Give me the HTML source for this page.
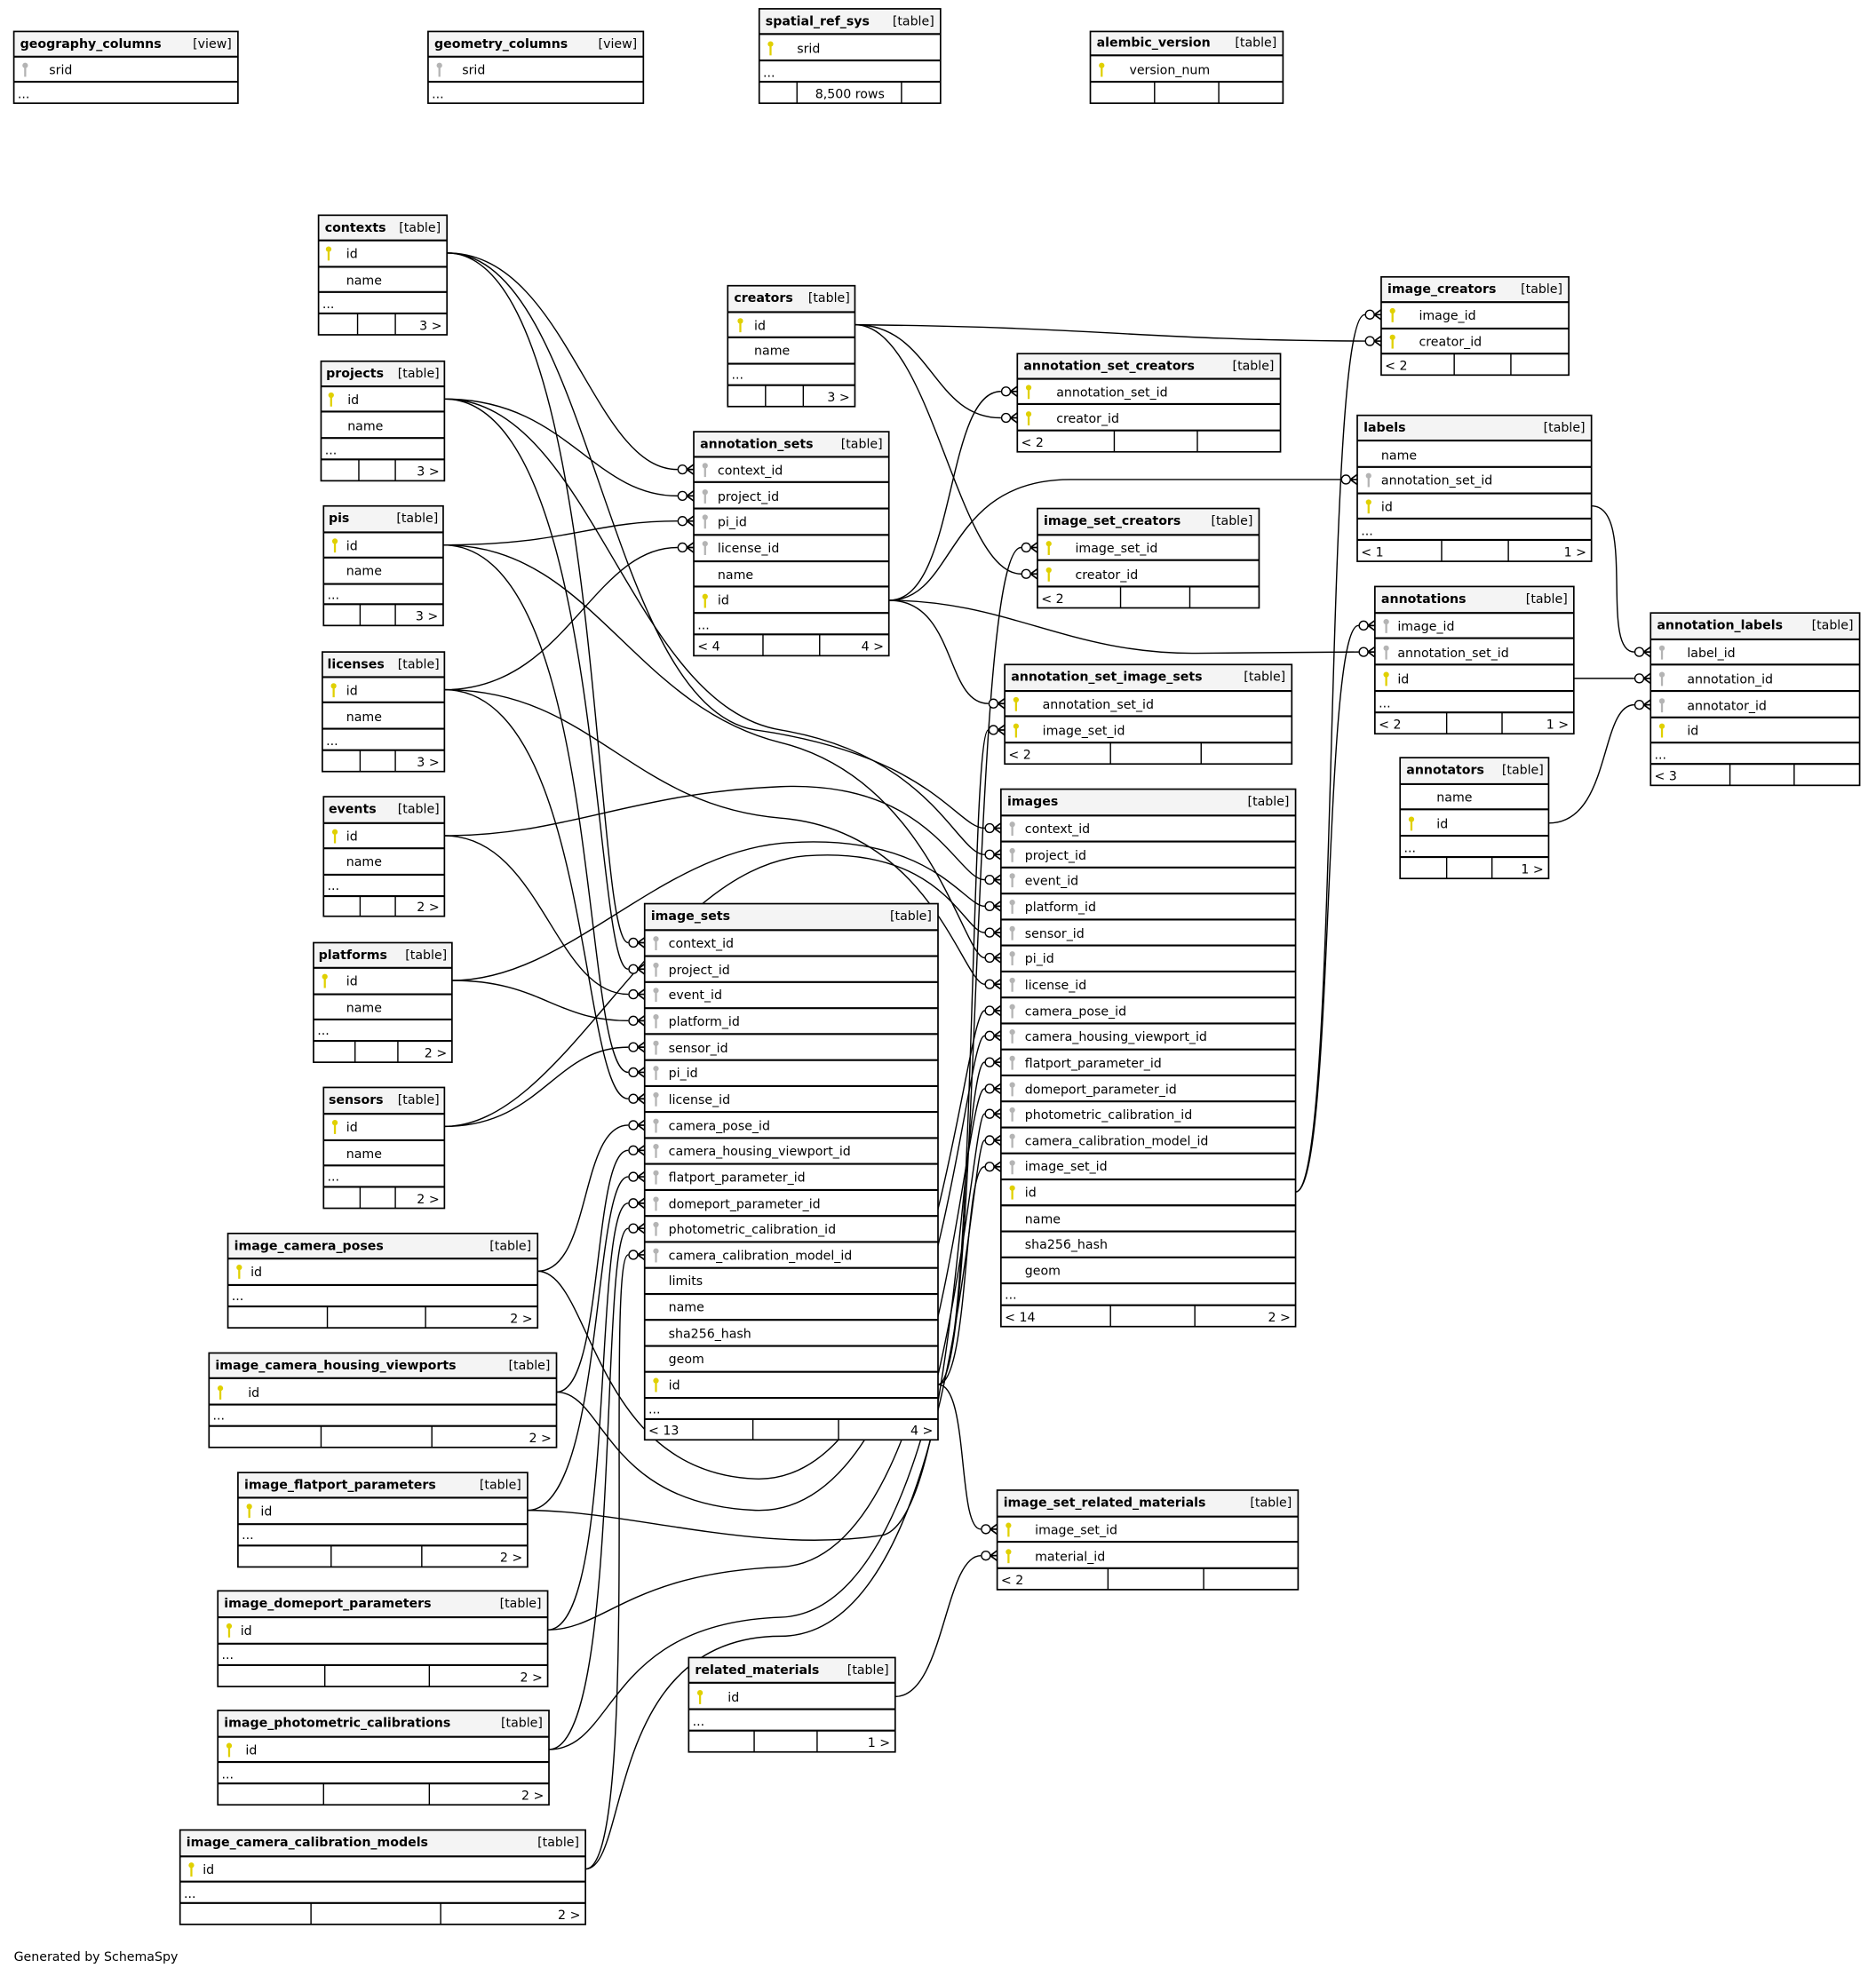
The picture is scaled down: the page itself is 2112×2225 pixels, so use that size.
<!DOCTYPE html>
<html><head><meta charset="utf-8"><style>
html,body{margin:0;padding:0;background:#fff}
svg{display:block}
text{font-family:"DejaVu Sans","Liberation Sans",sans-serif;font-size:10px;fill:#000}
.b{font-weight:bold}
.bg{fill:#fff}
.hd{fill:#f4f4f4}
.ol{fill:none;stroke:#000;stroke-width:1.2}
.ln{fill:none;stroke:#000;stroke-width:1.5}
.vl{fill:none;stroke:#000;stroke-width:1}
.e{fill:none;stroke:#000;stroke-width:1}
</style></head><body>
<svg width="2112" height="2225" viewBox="0 0 1490 1570" preserveAspectRatio="none" xmlns="http://www.w3.org/2000/svg">
<defs>
<g id="pk"><circle cx="0" cy="-3" r="2.2" fill="#e0d000"/><rect x="-0.8" y="-2" width="1.6" height="8" fill="#e0d000"/></g>
<g id="fk"><circle cx="0" cy="-3" r="2.2" fill="#b4b4b4"/><rect x="-0.8" y="-2" width="1.6" height="8" fill="#b4b4b4"/></g>
<g id="cf"><circle cx="-9" cy="0" r="3.5" fill="#fff" stroke="#000" stroke-width="1"/><path d="M-5.5 0L0 -4M-5.5 0L0 0M-5.5 0L0 4" stroke="#000" stroke-width="1.2" fill="none"/></g>
</defs>
<rect width="1490" height="1570" fill="#fff"/>

<!-- EDGES -->
<g class="e">
<path d="M355 201C450 201 470 373 538 373"/>
<path d="M353 317C450 317 470 394 538 394"/>
<path d="M352 433C450 433 470 414 538 414"/>
<path d="M353 548C450 548 470 435 538 435"/>
<path d="M355 201C480 201 470 749 499 749"/>
<path d="M353 317C480 317 470 770 499 770"/>
<path d="M353 664C430 664 440 790 499 790"/>
<path d="M359 779C430 779 440 811 499 811"/>
<path d="M353 895C430 895 440 832 499 832"/>
<path d="M352 433C480 433 460 852 499 852"/>
<path d="M353 548C470 548 460 873 499 873"/>
<path d="M427 1010C470 1010 460 894 499 894"/>
<path d="M442 1106C480 1106 470 914 499 914"/>
<path d="M419 1200C480 1200 470 935 499 935"/>
<path d="M435 1295C490 1295 470 956 499 956"/>
<path d="M436 1390C495 1390 475 976 499 976"/>
<path d="M465 1485C510 1485 480 997 499 997"/>
<path d="M355 201C470 201 480 560 600 580C740 600 760 658 782 658"/>
<path d="M353 317C470 317 500 560 620 580C740 600 760 679 782 679"/>
<path d="M353 664C450 664 500 630 620 625C740 620 760 699 782 699"/>
<path d="M359 779C450 779 520 680 620 670C740 660 765 720 782 720"/>
<path d="M353 895C450 895 520 690 640 680C750 672 765 741 782 741"/>
<path d="M352 433C470 433 500 560 620 590C740 620 765 761 782 761"/>
<path d="M353 548C470 548 500 640 620 650C740 660 765 782 782 782"/>
<path d="M427 1010C470 1010 470 1170 600 1175C740 1180 765 803 782 803"/>
<path d="M442 1106C480 1106 480 1195 600 1200C745 1205 765 823 782 823"/>
<path d="M419 1200C500 1200 600 1235 700 1220C760 1210 765 844 782 844"/>
<path d="M435 1295C480 1295 500 1250 620 1245C750 1240 765 865 782 865"/>
<path d="M436 1390C490 1390 480 1290 620 1285C755 1280 770 885 782 885"/>
<path d="M465 1485C500 1485 480 1300 620 1300C760 1300 770 906 782 906"/>
<path d="M745 1100C770 1100 765 927 782 927"/>
<path d="M745 1100C780 1100 770 435 811 435"/>
<path d="M745 1100C775 1100 770 580 785 580"/>
<path d="M745 1100C770 1100 760 1215 779 1215"/>
<path d="M711 1348C750 1348 750 1236 779 1236"/>
<path d="M706 477C760 477 750 311 795 311"/>
<path d="M706 477C760 477 750 559 785 559"/>
<path d="M706 477C760 477 750 381 850 381L1065 381"/>
<path d="M706 477C800 477 850 520 950 519L1079 518"/>
<path d="M679 258C740 258 740 332 795 332"/>
<path d="M679 258C740 258 760 456 811 456"/>
<path d="M679 258C880 260 900 270 1084 271"/>
<path d="M1029 947C1065 947 1050 250 1084 250"/>
<path d="M1029 947C1060 947 1050 497 1079 497"/>
<path d="M1264 402C1300 402 1270 518 1298 518"/>
<path d="M1250 539L1298 539"/>
<path d="M1230 654C1280 654 1270 560 1298 560"/>
</g>

<!-- TABLES -->
<!-- geography_columns -->
<g><rect class="bg" x="11" y="25" width="178" height="57"/><rect class="hd" x="11" y="25" width="178" height="20"/>
<path class="ln" d="M11 45H189M11 65H189"/>
<text x="16" y="38" class="b">geography_columns</text><text x="184" y="38" text-anchor="end">[view]</text>
<use href="#fk" x="20" y="55"/><text x="39" y="59">srid</text><text x="14" y="78">...</text>
<rect class="ol" x="11" y="25" width="178" height="57"/></g>
<!-- geometry_columns -->
<g><rect class="bg" x="340" y="25" width="171" height="57"/><rect class="hd" x="340" y="25" width="171" height="20"/>
<path class="ln" d="M340 45H511M340 65H511"/>
<text x="345" y="38" class="b">geometry_columns</text><text x="506" y="38" text-anchor="end">[view]</text>
<use href="#fk" x="349" y="55"/><text x="367" y="59">srid</text><text x="343" y="78">...</text>
<rect class="ol" x="340" y="25" width="171" height="57"/></g>
<!-- spatial_ref_sys -->
<g><rect class="bg" x="603" y="7" width="144" height="75"/><rect class="hd" x="603" y="7" width="144" height="20"/>
<path class="ln" d="M603 27H747M603 48H747M603 65H747"/><path class="vl" d="M633 65V82M716 65V82"/>
<text x="608" y="20" class="b">spatial_ref_sys</text><text x="742" y="20" text-anchor="end">[table]</text>
<use href="#pk" x="612" y="38"/><text x="633" y="42">srid</text><text x="606" y="61">...</text>
<text x="675" y="78" text-anchor="middle">8,500 rows</text>
<rect class="ol" x="603" y="7" width="144" height="75"/></g>
<!-- alembic_version -->
<g><rect class="bg" x="866" y="25" width="153" height="57"/><rect class="hd" x="866" y="25" width="153" height="19"/>
<path class="ln" d="M866 44H1019M866 65H1019"/><path class="vl" d="M917 65V82M968 65V82"/>
<text x="871" y="37" class="b">alembic_version</text><text x="1014" y="37" text-anchor="end">[table]</text>
<use href="#pk" x="875" y="55"/><text x="897" y="59">version_num</text>
<rect class="ol" x="866" y="25" width="153" height="57"/></g>

<!-- contexts -->
<g><rect class="bg" x="253" y="171" width="102" height="95"/><rect class="hd" x="253" y="171" width="102" height="20"/>
<path class="ln" d="M253 191H355M253 212H355M253 232H355M253 249H355"/><path class="vl" d="M284 249V266M314 249V266"/>
<text x="258" y="184" class="b">contexts</text><text x="350" y="184" text-anchor="end">[table]</text>
<use href="#pk" x="261" y="201"/><text x="275" y="205">id</text><text x="275" y="226">name</text><text x="256" y="245">...</text>
<text x="351" y="262" text-anchor="end">3 &gt;</text>
<rect class="ol" x="253" y="171" width="102" height="95"/></g>
<!-- projects -->
<g><rect class="bg" x="255" y="287" width="98" height="95"/><rect class="hd" x="255" y="287" width="98" height="20"/>
<path class="ln" d="M255 307H353M255 327H353M255 348H353M255 365H353"/><path class="vl" d="M285 365V382M314 365V382"/>
<text x="259" y="300" class="b">projects</text><text x="349" y="300" text-anchor="end">[table]</text>
<use href="#pk" x="263" y="317"/><text x="276" y="321">id</text><text x="276" y="342">name</text><text x="258" y="361">...</text>
<text x="349" y="378" text-anchor="end">3 &gt;</text>
<rect class="ol" x="255" y="287" width="98" height="95"/></g>
<!-- pis -->
<g><rect class="bg" x="257" y="402" width="95" height="95"/><rect class="hd" x="257" y="402" width="95" height="21"/>
<path class="ln" d="M257 423H352M257 443H352M257 464H352M257 480H352"/><path class="vl" d="M286 480V497M314 480V497"/>
<text x="261" y="415" class="b">pis</text><text x="348" y="415" text-anchor="end">[table]</text>
<use href="#pk" x="266" y="433"/><text x="275" y="437">id</text><text x="275" y="457">name</text><text x="260" y="476">...</text>
<text x="348" y="493" text-anchor="end">3 &gt;</text>
<rect class="ol" x="257" y="402" width="95" height="95"/></g>
<!-- licenses -->
<g><rect class="bg" x="256" y="518" width="97" height="95"/><rect class="hd" x="256" y="518" width="97" height="20"/>
<path class="ln" d="M256 538H353M256 558H353M256 579H353M256 596H353"/><path class="vl" d="M286 596V613M314 596V613"/>
<text x="260" y="531" class="b">licenses</text><text x="349" y="531" text-anchor="end">[table]</text>
<use href="#pk" x="265" y="548"/><text x="275" y="552">id</text><text x="275" y="573">name</text><text x="259" y="592">...</text>
<text x="349" y="609" text-anchor="end">3 &gt;</text>
<rect class="ol" x="256" y="518" width="97" height="95"/></g>
<!-- events -->
<g><rect class="bg" x="257" y="633" width="96" height="95"/><rect class="hd" x="257" y="633" width="96" height="21"/>
<path class="ln" d="M257 654H353M257 674H353M257 695H353M257 712H353"/><path class="vl" d="M286 712V728M314 712V728"/>
<text x="261" y="646" class="b">events</text><text x="349" y="646" text-anchor="end">[table]</text>
<use href="#pk" x="266" y="664"/><text x="275" y="668">id</text><text x="275" y="688">name</text><text x="260" y="707">...</text>
<text x="349" y="724" text-anchor="end">2 &gt;</text>
<rect class="ol" x="257" y="633" width="96" height="95"/></g>
<!-- platforms -->
<g><rect class="bg" x="249" y="749" width="110" height="95"/><rect class="hd" x="249" y="749" width="110" height="20"/>
<path class="ln" d="M249 769H359M249 790H359M249 810H359M249 827H359"/><path class="vl" d="M282 827V844M316 827V844"/>
<text x="253" y="762" class="b">platforms</text><text x="355" y="762" text-anchor="end">[table]</text>
<use href="#pk" x="258" y="779"/><text x="275" y="783">id</text><text x="275" y="804">name</text><text x="252" y="822">...</text>
<text x="355" y="840" text-anchor="end">2 &gt;</text>
<rect class="ol" x="249" y="749" width="110" height="95"/></g>
<!-- sensors -->
<g><rect class="bg" x="257" y="864" width="96" height="96"/><rect class="hd" x="257" y="864" width="96" height="21"/>
<path class="ln" d="M257 885H353M257 906H353M257 926H353M257 943H353"/><path class="vl" d="M286 943V960M314 943V960"/>
<text x="261" y="877" class="b">sensors</text><text x="349" y="877" text-anchor="end">[table]</text>
<use href="#pk" x="266" y="895"/><text x="275" y="899">id</text><text x="275" y="920">name</text><text x="260" y="938">...</text>
<text x="349" y="956" text-anchor="end">2 &gt;</text>
<rect class="ol" x="257" y="864" width="96" height="96"/></g>
<!-- image_camera_poses -->
<g><rect class="bg" x="181" y="980" width="246" height="75"/><rect class="hd" x="181" y="980" width="246" height="20"/>
<path class="ln" d="M181 1000H427M181 1021H427M181 1038H427"/><path class="vl" d="M260 1038V1055M338 1038V1055"/>
<text x="186" y="993" class="b">image_camera_poses</text><text x="422" y="993" text-anchor="end">[table]</text>
<use href="#pk" x="190" y="1010"/><text x="199" y="1014">id</text><text x="184" y="1033">...</text>
<text x="423" y="1051" text-anchor="end">2 &gt;</text>
<rect class="ol" x="181" y="980" width="246" height="75"/></g>
<!-- image_camera_housing_viewports -->
<g><rect class="bg" x="166" y="1075" width="276" height="75"/><rect class="hd" x="166" y="1075" width="276" height="20"/>
<path class="ln" d="M166 1095H442M166 1116H442M166 1133H442"/><path class="vl" d="M255 1133V1150M343 1133V1150"/>
<text x="171" y="1088" class="b">image_camera_housing_viewports</text><text x="437" y="1088" text-anchor="end">[table]</text>
<use href="#pk" x="175" y="1106"/><text x="197" y="1110">id</text><text x="169" y="1128">...</text>
<text x="438" y="1146" text-anchor="end">2 &gt;</text>
<rect class="ol" x="166" y="1075" width="276" height="75"/></g>
<!-- image_flatport_parameters -->
<g><rect class="bg" x="189" y="1170" width="230" height="75"/><rect class="hd" x="189" y="1170" width="230" height="20"/>
<path class="ln" d="M189 1190H419M189 1211H419M189 1228H419"/><path class="vl" d="M263 1228V1245M335 1228V1245"/>
<text x="194" y="1183" class="b">image_flatport_parameters</text><text x="414" y="1183" text-anchor="end">[table]</text>
<use href="#pk" x="198" y="1200"/><text x="207" y="1204">id</text><text x="192" y="1223">...</text>
<text x="415" y="1241" text-anchor="end">2 &gt;</text>
<rect class="ol" x="189" y="1170" width="230" height="75"/></g>
<!-- image_domeport_parameters -->
<g><rect class="bg" x="173" y="1264" width="262" height="76"/><rect class="hd" x="173" y="1264" width="262" height="21"/>
<path class="ln" d="M173 1285H435M173 1306H435M173 1323H435"/><path class="vl" d="M258 1323V1340M341 1323V1340"/>
<text x="178" y="1277" class="b">image_domeport_parameters</text><text x="430" y="1277" text-anchor="end">[table]</text>
<use href="#pk" x="182" y="1295"/><text x="191" y="1299">id</text><text x="176" y="1318">...</text>
<text x="431" y="1336" text-anchor="end">2 &gt;</text>
<rect class="ol" x="173" y="1264" width="262" height="76"/></g>
<!-- image_photometric_calibrations -->
<g><rect class="bg" x="173" y="1359" width="263" height="75"/><rect class="hd" x="173" y="1359" width="263" height="21"/>
<path class="ln" d="M173 1380H436M173 1400H436M173 1417H436"/><path class="vl" d="M257 1417V1434M341 1417V1434"/>
<text x="178" y="1372" class="b">image_photometric_calibrations</text><text x="431" y="1372" text-anchor="end">[table]</text>
<use href="#pk" x="182" y="1390"/><text x="195" y="1394">id</text><text x="176" y="1413">...</text>
<text x="432" y="1430" text-anchor="end">2 &gt;</text>
<rect class="ol" x="173" y="1359" width="263" height="75"/></g>
<!-- image_camera_calibration_models -->
<g><rect class="bg" x="143" y="1454" width="322" height="75"/><rect class="hd" x="143" y="1454" width="322" height="21"/>
<path class="ln" d="M143 1475H465M143 1495H465M143 1512H465"/><path class="vl" d="M247 1512V1529M350 1512V1529"/>
<text x="148" y="1467" class="b">image_camera_calibration_models</text><text x="460" y="1467" text-anchor="end">[table]</text>
<use href="#pk" x="152" y="1485"/><text x="161" y="1489">id</text><text x="146" y="1508">...</text>
<text x="461" y="1525" text-anchor="end">2 &gt;</text>
<rect class="ol" x="143" y="1454" width="322" height="75"/></g>

<!-- creators -->
<g><rect class="bg" x="578" y="227" width="101" height="96"/><rect class="hd" x="578" y="227" width="101" height="21"/>
<path class="ln" d="M578 248H679M578 268H679M578 289H679M578 306H679"/><path class="vl" d="M608 306V323M638 306V323"/>
<text x="583" y="240" class="b">creators</text><text x="675" y="240" text-anchor="end">[table]</text>
<use href="#pk" x="588" y="258"/><text x="599" y="262">id</text><text x="599" y="282">name</text><text x="581" y="301">...</text>
<text x="675" y="319" text-anchor="end">3 &gt;</text>
<rect class="ol" x="578" y="227" width="101" height="96"/></g>
<!-- annotation_sets -->
<g><rect class="bg" x="551" y="343" width="155" height="178"/><rect class="hd" x="551" y="343" width="155" height="20"/>
<path class="ln" d="M551 363H706M551 383H706M551 404H706M551 425H706M551 446H706M551 466H706M551 487H706M551 504H706"/><path class="vl" d="M606 504V521M651 504V521"/>
<text x="556" y="356" class="b">annotation_sets</text><text x="701" y="356" text-anchor="end">[table]</text>
<use href="#fk" x="560" y="373"/><text x="570" y="377">context_id</text>
<use href="#fk" x="560" y="394"/><text x="570" y="398">project_id</text>
<use href="#fk" x="560" y="414"/><text x="570" y="418">pi_id</text>
<use href="#fk" x="560" y="435"/><text x="570" y="439">license_id</text>
<text x="570" y="460">name</text>
<use href="#pk" x="560" y="477"/><text x="570" y="480">id</text>
<text x="554" y="500">...</text><text x="554" y="517">&lt; 4</text><text x="702" y="517" text-anchor="end">4 &gt;</text>
<rect class="ol" x="551" y="343" width="155" height="178"/></g>
<!-- image_sets -->
<g><rect class="bg" x="512" y="718" width="233" height="426"/><rect class="hd" x="512" y="718" width="233" height="21"/>
<path class="ln" d="M512 739H745M512 759.6H745M512 780.3H745M512 801H745M512 821.6H745M512 842.3H745M512 862.9H745M512 883.5H745M512 904.2H745M512 924.8H745M512 945.5H745M512 966.1H745M512 986.8H745M512 1007.4H745M512 1028.1H745M512 1048.7H745M512 1069.4H745M512 1090H745M512 1110.7H745M512 1127.5H745"/>
<path class="vl" d="M598 1127.5V1144M666 1127.5V1144"/>
<text x="517" y="731" class="b">image_sets</text><text x="740" y="731" text-anchor="end">[table]</text>
<use href="#fk" x="521" y="749"/><text x="531" y="753">context_id</text>
<use href="#fk" x="521" y="770"/><text x="531" y="774">project_id</text>
<use href="#fk" x="521" y="790"/><text x="531" y="794">event_id</text>
<use href="#fk" x="521" y="811"/><text x="531" y="815">platform_id</text>
<use href="#fk" x="521" y="832"/><text x="531" y="836">sensor_id</text>
<use href="#fk" x="521" y="852"/><text x="531" y="856">pi_id</text>
<use href="#fk" x="521" y="873"/><text x="531" y="877">license_id</text>
<use href="#fk" x="521" y="894"/><text x="531" y="898">camera_pose_id</text>
<use href="#fk" x="521" y="914"/><text x="531" y="918">camera_housing_viewport_id</text>
<use href="#fk" x="521" y="935"/><text x="531" y="939">flatport_parameter_id</text>
<use href="#fk" x="521" y="956"/><text x="531" y="960">domeport_parameter_id</text>
<use href="#fk" x="521" y="976"/><text x="531" y="980">photometric_calibration_id</text>
<use href="#fk" x="521" y="997"/><text x="531" y="1001">camera_calibration_model_id</text>
<text x="531" y="1021">limits</text><text x="531" y="1042">name</text><text x="531" y="1063">sha256_hash</text><text x="531" y="1083">geom</text>
<use href="#pk" x="521" y="1100"/><text x="531" y="1104">id</text>
<text x="515" y="1123">...</text><text x="515" y="1140">&lt; 13</text><text x="741" y="1140" text-anchor="end">4 &gt;</text>
<rect class="ol" x="512" y="718" width="233" height="426"/></g>
<!-- images -->
<g><rect class="bg" x="795" y="627" width="234" height="427"/><rect class="hd" x="795" y="627" width="234" height="21"/>
<path class="ln" d="M795 648H1029M795 668.6H1029M795 689.3H1029M795 710H1029M795 730.6H1029M795 751.2H1029M795 771.9H1029M795 792.5H1029M795 813.2H1029M795 833.8H1029M795 854.5H1029M795 875.1H1029M795 895.8H1029M795 916.4H1029M795 937.1H1029M795 957.7H1029M795 978.4H1029M795 999H1029M795 1019.7H1029M795 1037H1029"/>
<path class="vl" d="M882 1037V1054M949 1037V1054"/>
<text x="800" y="640" class="b">images</text><text x="1024" y="640" text-anchor="end">[table]</text>
<use href="#fk" x="804" y="658"/><text x="814" y="662">context_id</text>
<use href="#fk" x="804" y="679"/><text x="814" y="683">project_id</text>
<use href="#fk" x="804" y="699"/><text x="814" y="703">event_id</text>
<use href="#fk" x="804" y="720"/><text x="814" y="724">platform_id</text>
<use href="#fk" x="804" y="741"/><text x="814" y="745">sensor_id</text>
<use href="#fk" x="804" y="761"/><text x="814" y="765">pi_id</text>
<use href="#fk" x="804" y="782"/><text x="814" y="786">license_id</text>
<use href="#fk" x="804" y="803"/><text x="814" y="807">camera_pose_id</text>
<use href="#fk" x="804" y="823"/><text x="814" y="827">camera_housing_viewport_id</text>
<use href="#fk" x="804" y="844"/><text x="814" y="848">flatport_parameter_id</text>
<use href="#fk" x="804" y="865"/><text x="814" y="869">domeport_parameter_id</text>
<use href="#fk" x="804" y="885"/><text x="814" y="889">photometric_calibration_id</text>
<use href="#fk" x="804" y="906"/><text x="814" y="910">camera_calibration_model_id</text>
<use href="#fk" x="804" y="927"/><text x="814" y="930">image_set_id</text>
<use href="#pk" x="804" y="947"/><text x="814" y="951">id</text>
<text x="814" y="972">name</text><text x="814" y="992">sha256_hash</text><text x="814" y="1013">geom</text>
<text x="798" y="1032">...</text><text x="798" y="1050">&lt; 14</text><text x="1025" y="1050" text-anchor="end">2 &gt;</text>
<rect class="ol" x="795" y="627" width="234" height="427"/></g>
<!-- annotation_set_creators -->
<g><rect class="bg" x="808" y="281" width="209" height="78"/><rect class="hd" x="808" y="281" width="209" height="20"/>
<path class="ln" d="M808 301H1017M808 321H1017M808 342H1017"/><path class="vl" d="M885 342V359M951 342V359"/>
<text x="813" y="294" class="b">annotation_set_creators</text><text x="1012" y="294" text-anchor="end">[table]</text>
<use href="#pk" x="817" y="311"/><text x="839" y="315">annotation_set_id</text>
<use href="#pk" x="817" y="332"/><text x="839" y="336">creator_id</text>
<text x="811" y="355">&lt; 2</text>
<rect class="ol" x="808" y="281" width="209" height="78"/></g>
<!-- image_set_creators -->
<g><rect class="bg" x="824" y="404" width="176" height="79"/><rect class="hd" x="824" y="404" width="176" height="21"/>
<path class="ln" d="M824 425H1000M824 445H1000M824 466H1000"/><path class="vl" d="M890 466V483M945 466V483"/>
<text x="829" y="417" class="b">image_set_creators</text><text x="995" y="417" text-anchor="end">[table]</text>
<use href="#pk" x="833" y="435"/><text x="854" y="439">image_set_id</text>
<use href="#pk" x="833" y="456"/><text x="854" y="460">creator_id</text>
<text x="827" y="479">&lt; 2</text>
<rect class="ol" x="824" y="404" width="176" height="79"/></g>
<!-- annotation_set_image_sets -->
<g><rect class="bg" x="798" y="528" width="228" height="79"/><rect class="hd" x="798" y="528" width="228" height="21"/>
<path class="ln" d="M798 549H1026M798 569H1026M798 590H1026"/><path class="vl" d="M882 590V607M954 590V607"/>
<text x="803" y="541" class="b">annotation_set_image_sets</text><text x="1021" y="541" text-anchor="end">[table]</text>
<use href="#pk" x="807" y="559"/><text x="828" y="563">annotation_set_id</text>
<use href="#pk" x="807" y="580"/><text x="828" y="584">image_set_id</text>
<text x="801" y="603">&lt; 2</text>
<rect class="ol" x="798" y="528" width="228" height="79"/></g>
<!-- image_set_related_materials -->
<g><rect class="bg" x="792" y="1184" width="239" height="79"/><rect class="hd" x="792" y="1184" width="239" height="21"/>
<path class="ln" d="M792 1205H1031M792 1225H1031M792 1246H1031"/><path class="vl" d="M880 1246V1263M956 1246V1263"/>
<text x="797" y="1197" class="b">image_set_related_materials</text><text x="1026" y="1197" text-anchor="end">[table]</text>
<use href="#pk" x="801" y="1215"/><text x="822" y="1219">image_set_id</text>
<use href="#pk" x="801" y="1236"/><text x="822" y="1240">material_id</text>
<text x="795" y="1259">&lt; 2</text>
<rect class="ol" x="792" y="1184" width="239" height="79"/></g>
<!-- related_materials -->
<g><rect class="bg" x="547" y="1317" width="164" height="75"/><rect class="hd" x="547" y="1317" width="164" height="20"/>
<path class="ln" d="M547 1337H711M547 1358H711M547 1375H711"/><path class="vl" d="M599 1375V1392M649 1375V1392"/>
<text x="552" y="1330" class="b">related_materials</text><text x="706" y="1330" text-anchor="end">[table]</text>
<use href="#pk" x="556" y="1348"/><text x="578" y="1352">id</text><text x="550" y="1371">...</text>
<text x="707" y="1388" text-anchor="end">1 &gt;</text>
<rect class="ol" x="547" y="1317" width="164" height="75"/></g>
<!-- image_creators -->
<g><rect class="bg" x="1097" y="220" width="149" height="78"/><rect class="hd" x="1097" y="220" width="149" height="20"/>
<path class="ln" d="M1097 240H1246M1097 261H1246M1097 281H1246"/><path class="vl" d="M1155 281V298M1200 281V298"/>
<text x="1102" y="233" class="b">image_creators</text><text x="1241" y="233" text-anchor="end">[table]</text>
<use href="#pk" x="1106" y="250"/><text x="1127" y="254">image_id</text>
<use href="#pk" x="1106" y="271"/><text x="1127" y="275">creator_id</text>
<text x="1100" y="294">&lt; 2</text>
<rect class="ol" x="1097" y="220" width="149" height="78"/></g>
<!-- labels -->
<g><rect class="bg" x="1078" y="330" width="186" height="116"/><rect class="hd" x="1078" y="330" width="186" height="20"/>
<path class="ln" d="M1078 350H1264M1078 371H1264M1078 392H1264M1078 412H1264M1078 429H1264"/><path class="vl" d="M1145 429V446M1198 429V446"/>
<text x="1083" y="343" class="b">labels</text><text x="1259" y="343" text-anchor="end">[table]</text>
<text x="1097" y="365">name</text>
<use href="#fk" x="1087" y="381"/><text x="1097" y="385">annotation_set_id</text>
<use href="#pk" x="1087" y="402"/><text x="1097" y="406">id</text>
<text x="1081" y="425">...</text><text x="1081" y="442">&lt; 1</text><text x="1260" y="442" text-anchor="end">1 &gt;</text>
<rect class="ol" x="1078" y="330" width="186" height="116"/></g>
<!-- annotations -->
<g><rect class="bg" x="1092" y="466" width="158" height="117"/><rect class="hd" x="1092" y="466" width="158" height="21"/>
<path class="ln" d="M1092 487H1250M1092 507H1250M1092 528H1250M1092 549H1250M1092 566H1250"/><path class="vl" d="M1149 566V583M1193 566V583"/>
<text x="1097" y="479" class="b">annotations</text><text x="1245" y="479" text-anchor="end">[table]</text>
<use href="#fk" x="1101" y="497"/><text x="1110" y="501">image_id</text>
<use href="#fk" x="1101" y="518"/><text x="1110" y="522">annotation_set_id</text>
<use href="#pk" x="1101" y="539"/><text x="1110" y="543">id</text>
<text x="1095" y="562">...</text><text x="1095" y="579">&lt; 2</text><text x="1246" y="579" text-anchor="end">1 &gt;</text>
<rect class="ol" x="1092" y="466" width="158" height="117"/></g>
<!-- annotators -->
<g><rect class="bg" x="1112" y="602" width="118" height="96"/><rect class="hd" x="1112" y="602" width="118" height="21"/>
<path class="ln" d="M1112 623H1230M1112 643H1230M1112 664H1230M1112 681H1230"/><path class="vl" d="M1149 681V698M1185 681V698"/>
<text x="1117" y="615" class="b">annotators</text><text x="1226" y="615" text-anchor="end">[table]</text>
<text x="1141" y="637">name</text>
<use href="#pk" x="1121" y="654"/><text x="1141" y="658">id</text>
<text x="1115" y="677">...</text><text x="1226" y="694" text-anchor="end">1 &gt;</text>
<rect class="ol" x="1112" y="602" width="118" height="96"/></g>
<!-- annotation_labels -->
<g><rect class="bg" x="1311" y="487" width="166" height="137"/><rect class="hd" x="1311" y="487" width="166" height="21"/>
<path class="ln" d="M1311 508H1477M1311 528H1477M1311 549H1477M1311 570H1477M1311 590H1477M1311 607H1477"/><path class="vl" d="M1374 607V624M1425 607V624"/>
<text x="1316" y="500" class="b">annotation_labels</text><text x="1472" y="500" text-anchor="end">[table]</text>
<use href="#fk" x="1320" y="518"/><text x="1340" y="522">label_id</text>
<use href="#fk" x="1320" y="539"/><text x="1340" y="543">annotation_id</text>
<use href="#fk" x="1320" y="560"/><text x="1340" y="564">annotator_id</text>
<use href="#pk" x="1320" y="580"/><text x="1340" y="584">id</text>
<text x="1314" y="603">...</text><text x="1314" y="620">&lt; 3</text>
<rect class="ol" x="1311" y="487" width="166" height="137"/></g>

<!-- MARKERS -->
<use href="#cf" x="551" y="373"/><use href="#cf" x="551" y="394"/><use href="#cf" x="551" y="414"/><use href="#cf" x="551" y="435"/>
<use href="#cf" x="512" y="749"/><use href="#cf" x="512" y="770"/><use href="#cf" x="512" y="790"/><use href="#cf" x="512" y="811"/><use href="#cf" x="512" y="832"/><use href="#cf" x="512" y="852"/><use href="#cf" x="512" y="873"/><use href="#cf" x="512" y="894"/><use href="#cf" x="512" y="914"/><use href="#cf" x="512" y="935"/><use href="#cf" x="512" y="956"/><use href="#cf" x="512" y="976"/><use href="#cf" x="512" y="997"/>
<use href="#cf" x="795" y="658"/><use href="#cf" x="795" y="679"/><use href="#cf" x="795" y="699"/><use href="#cf" x="795" y="720"/><use href="#cf" x="795" y="741"/><use href="#cf" x="795" y="761"/><use href="#cf" x="795" y="782"/><use href="#cf" x="795" y="803"/><use href="#cf" x="795" y="823"/><use href="#cf" x="795" y="844"/><use href="#cf" x="795" y="865"/><use href="#cf" x="795" y="885"/><use href="#cf" x="795" y="906"/><use href="#cf" x="795" y="927"/>
<use href="#cf" x="808" y="311"/><use href="#cf" x="808" y="332"/>
<use href="#cf" x="824" y="435"/><use href="#cf" x="824" y="456"/>
<use href="#cf" x="798" y="559"/><use href="#cf" x="798" y="580"/>
<use href="#cf" x="792" y="1215"/><use href="#cf" x="792" y="1236"/>
<use href="#cf" x="1097" y="250"/><use href="#cf" x="1097" y="271"/>
<use href="#cf" x="1078" y="381"/>
<use href="#cf" x="1092" y="497"/><use href="#cf" x="1092" y="518"/>
<use href="#cf" x="1311" y="518"/><use href="#cf" x="1311" y="539"/><use href="#cf" x="1311" y="560"/>

<text x="11" y="1558">Generated by SchemaSpy</text>
</svg>
</body></html>
